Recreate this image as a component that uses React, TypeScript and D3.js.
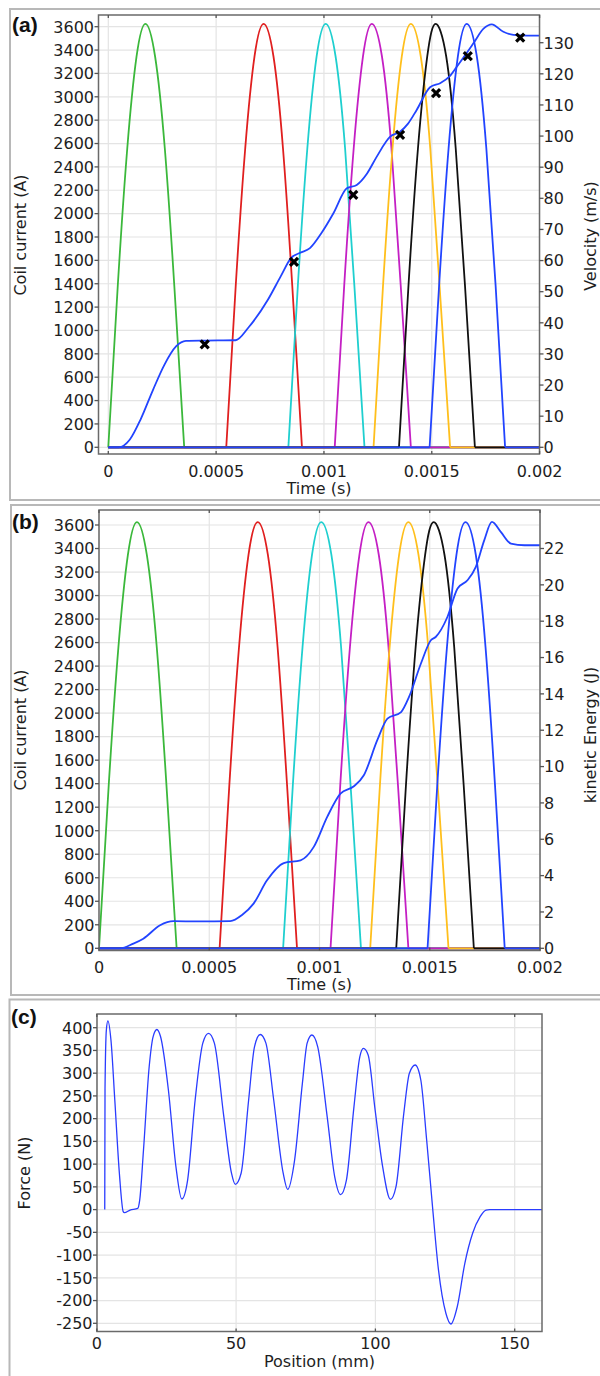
import React, { useRef, useEffect } from "react";
import * as d3 from "d3";

// ---- data ----
const timeTicks = [0, 0.0005, 0.001, 0.0015, 0.002];
const timeTickLabels = ["0", "0.0005", "0.001", "0.0015", "0.002"];
const currentTicks = [0, 200, 400, 600, 800, 1000, 1200, 1400, 1600, 1800, 2000, 2200, 2400, 2600, 2800, 3000, 3200, 3400, 3600];
const velocityTicks = [0, 10, 20, 30, 40, 50, 60, 70, 80, 90, 100, 110, 120, 130];
const energyTicks = [0, 2, 4, 6, 8, 10, 12, 14, 16, 18, 20, 22];
const forceTicks = [-250, -200, -150, -100, -50, 0, 50, 100, 150, 200, 250, 300, 350, 400];
const positionTicks = [0, 50, 100, 150];

const coilColors = ["#3bb83b", "#e01f1f", "#1fcfcf", "#c41fc4", "#ffbf1c", "#111111", "#2244ff"];
// sample times of each coil's pulse (s)
const coilTimes = [
  [0, 0.000044, 0.000088, 0.000131, 0.000172, 0.000217, 0.000262, 0.000306, 0.000352],
  [0.000547, 0.000591, 0.000635, 0.000678, 0.000720, 0.000766, 0.00081, 0.000853, 0.000898],
  [0.000835, 0.000879, 0.000923, 0.000966, 0.001008, 0.001054, 0.001098, 0.001141, 0.001188],
  [0.00105, 0.001094, 0.001138, 0.001181, 0.001222, 0.001269, 0.001313, 0.001356, 0.001403],
  [0.00123, 0.001274, 0.001318, 0.001361, 0.001403, 0.001449, 0.001493, 0.001536, 0.001585],
  [0.001348, 0.001392, 0.001436, 0.001479, 0.001518, 0.001567, 0.001611, 0.001654, 0.0017],
  [0.00149, 0.001534, 0.001578, 0.001621, 0.001662, 0.001709, 0.001753, 0.001796, 0.00184],
];
// current at those samples (A), same for every coil
const coilCurrent = [0, 1385, 2560, 3345, 3625, 3345, 2560, 1385, 0];

// velocity (m/s) vs time (s)
const velocity = [
  [0, 0], [0.000048, 0], [0.0001, 2.5], [0.00015, 9], [0.000207, 18.4], [0.00026, 26.5], [0.000314, 32.4],
  [0.00036, 34.2], [0.00045, 34.3], [0.00059, 34.4], [0.00065, 38.5], [0.00074, 47.4], [0.0008, 55],
  [0.000847, 60.8], [0.00089, 62.5], [0.000935, 64], [0.00099, 69], [0.001044, 75.2], [0.001106, 83.2],
  [0.001152, 84.3], [0.0012, 88], [0.001245, 93.4], [0.001307, 99.8], [0.001353, 101.4], [0.00139, 104],
  [0.00143, 108.4], [0.001492, 115.7], [0.001539, 117], [0.00158, 119], [0.001616, 122.3], [0.001693, 129.8],
  [0.00174, 134.5], [0.001778, 135.9], [0.001832, 133.5], [0.001879, 132.5], [0.00194, 132.3], [0.002, 132.3],
];
const velocityMarks = [
  [0.000447, 33.1], [0.000861, 59.6], [0.001136, 81.1], [0.001353, 100.4], [0.00152, 113.8], [0.001667, 125.7], [0.00191, 131.6],
];

// kinetic energy (J) vs time (s)
const energy = [
  [0, 0], [0.0000955, 0], [0.000156, 0.26], [0.000201, 0.53], [0.000277, 1.27], [0.000338, 1.49], [0.00045, 1.48],
  [0.000595, 1.5], [0.00065, 1.85], [0.000701, 2.46], [0.000762, 3.74], [0.000838, 4.69], [0.000914, 4.84],
  [0.000974, 5.58], [0.001035, 7.23], [0.001095, 8.51], [0.001156, 8.92], [0.001201, 9.52], [0.001262, 11.45],
  [0.001308, 12.64], [0.00137, 13.0], [0.001406, 13.83], [0.00146, 15.67], [0.001505, 16.95], [0.001527, 17.13],
  [0.00158, 18.23], [0.001626, 19.8], [0.001671, 20.25], [0.001709, 20.99], [0.001747, 22.45], [0.001782, 23.46],
  [0.001823, 22.9], [0.001868, 22.27], [0.00193, 22.18], [0.002, 22.18],
];

// force (N) vs position (mm)
const force = [
  [2.85, 0], [2.95, 266], [3.43, 395], [3.98, 415], [5.08, 373], [6.46, 241], [8.1, 80], [9.48, -4.5], [9.89, -6.7],
  [11.95, -1], [14.7, 2.8], [15.4, 21], [16.76, 131], [18.8, 314], [20.2, 380], [21.57, 396], [22.9, 380],
  [25.7, 263], [28.4, 94.5], [30.5, 23.4], [32.6, 65], [35.3, 241], [38.05, 366], [40.1, 387.5], [42.2, 366],
  [45.6, 204], [48.35, 80], [49.7, 55.6], [51.8, 80], [54.5, 241], [56.6, 358], [58.65, 385], [60.7, 366],
  [63.5, 241], [66.9, 80], [68.5, 44.6], [71.0, 109], [73.8, 278], [75.5, 366], [77.2, 384], [79.3, 358],
  [82.7, 204], [85.4, 72], [87.5, 33], [89.6, 65], [92.3, 226], [94.4, 336], [95.7, 354.6], [97.4, 340],
  [99.9, 219], [102.6, 94.5], [105.4, 22.6], [107.4, 50.5], [110.2, 212], [112.2, 300], [114.3, 318],
  [116.3, 285], [118.4, 153], [120.5, 6.5], [122.5, -125], [125.3, -228], [127.1, -251.5], [129.4, -213],
  [132.1, -118], [134.9, -52], [137.6, -15.5], [139.7, -1], [141, 0], [160, 0],
];

const FONT = "DejaVu Sans";
const FS = 16;
const TXT = "#1e1e1e";

function label(g, x, y, s, anchor = "middle", rotate = false) {
  const t = g.append("text")
    .attr("font-family", FONT)
    .attr("font-size", FS)
    .attr("fill", TXT)
    .attr("text-anchor", anchor)
    .text(s);
  if (rotate) t.attr("transform", `translate(${x},${y}) rotate(-90)`);
  else t.attr("x", x).attr("y", y);
  return t;
}

// grid for a panel
function drawAxes(svg, p) {
  const g = svg.append("g");
  const [l, t, r, b] = p.frame;
  p.xTicks.forEach((v) => {
    g.append("line").attr("x1", p.x(v)).attr("x2", p.x(v)).attr("y1", t).attr("y2", b)
      .attr("stroke", "#e4e4e4").attr("stroke-width", 1.2);
  });
  p.yTicks.forEach((v) => {
    g.append("line").attr("x1", l).attr("x2", r).attr("y1", p.y(v)).attr("y2", p.y(v))
      .attr("stroke", "#e4e4e4").attr("stroke-width", 1.2);
  });
  return g;
}

// frame, ticks, labels, titles
function drawFrame(svg, p) {
  const g = svg.append("g");
  const [l, t, r, b] = p.frame;
  g.append("rect").attr("x", l).attr("y", t).attr("width", r - l).attr("height", b - t)
    .attr("fill", "none").attr("stroke", "#6a6a6a").attr("stroke-width", 1.5);
  p.xTicks.forEach((v, i) => {
    const x = p.x(v);
    g.append("line").attr("x1", x).attr("x2", x).attr("y1", b).attr("y2", b - 3).attr("stroke", "#555").attr("stroke-width", 1.3);
    g.append("line").attr("x1", x).attr("x2", x).attr("y1", t).attr("y2", t + 3).attr("stroke", "#555").attr("stroke-width", 1.3);
    label(g, x, p.xLabelY, p.xLabels[i]);
  });
  p.yTicks.forEach((v) => {
    const y = p.y(v);
    g.append("line").attr("x1", l - 4).attr("x2", l).attr("y1", y).attr("y2", y).attr("stroke", "#555").attr("stroke-width", 1.3);
    label(g, l - 4.5, y + 5.8, String(v), "end");
  });
  if (p.y2) {
    p.y2Ticks.forEach((v) => {
      const y = p.y2(v);
      g.append("line").attr("x1", r).attr("x2", r + 4).attr("y1", y).attr("y2", y).attr("stroke", "#555").attr("stroke-width", 1.3);
      label(g, r + 4, y + 5.8, String(v), "start");
    });
    label(g, 596, p.y2TitleY, p.y2Title, "middle", true);
  }
  label(g, (l + r) / 2, p.xTitleY, p.xTitle);
  label(g, p.yTitleX, p.yTitleY, p.yTitle, "middle", true);
  g.append("text").attr("x", p.tagX).attr("y", p.tagY)
    .attr("font-family", "Liberation Sans").attr("font-weight", "bold").attr("font-size", 21)
    .attr("fill", "#111").text(p.tag);
}

function clipped(svg, id, frame) {
  const [l, t, r, b] = frame;
  svg.append("clipPath").attr("id", id).append("rect").attr("x", l).attr("y", t).attr("width", r - l).attr("height", b - t);
  return svg.append("g").attr("clip-path", `url(#${id})`);
}

function drawCoils(g, x, y) {
  const flat = d3.line<number>().x((d) => x(d)).y(() => y(0));
  const pulse = d3.line<number>().x((d) => x(d)).y((d, j) => y(coilCurrent[j])).curve(d3.curveNatural);
  const t0 = timeTicks[0];
  const t1 = timeTicks[timeTicks.length - 1];
  coilTimes.forEach((times, i) => {
    const c = coilColors[i];
    const s = times[0];
    const e = times[times.length - 1];
    [[t0, s], [e, t1]].filter((seg) => seg[1] > seg[0]).forEach((seg) => {
      g.append("path").attr("d", flat(seg)).attr("fill", "none").attr("stroke", c).attr("stroke-width", 1.8);
    });
    g.append("path").attr("d", pulse(times)).attr("fill", "none").attr("stroke", c).attr("stroke-width", 1.8);
  });
}

export default function App() {
  const svgRef = useRef<SVGSVGElement>(null);

  useEffect(() => {
    const svg = d3.select(svgRef.current);
    svg.selectAll("*").remove();

    // outer panel boxes
    [[10, 9, 600, 491], [11, 505, 600, 490], [9.5, 999.5, 600, 400]].forEach(([x, y, w, h]) => {
      svg.append("rect").attr("x", x).attr("y", y).attr("width", w).attr("height", h)
        .attr("fill", "none").attr("stroke", "#b8b8b8").attr("stroke-width", 2);
    });

    // ---------- (a) ----------
    const fA = [98.5, 15, 539.5, 454];
    const xA = d3.scaleLinear().domain([0, 0.002]).range([108.3, 539.6]);
    const yA = d3.scaleLinear().domain([0, 3600]).range([447.3, 26.7]);
    const vA = d3.scaleLinear().domain([0, 130]).range([447.3, 42.7]);
    const pA = {
      frame: fA, x: xA, y: yA, y2: vA,
      xTicks: timeTicks, xLabels: timeTickLabels, xLabelY: 477,
      yTicks: currentTicks, y2Ticks: velocityTicks,
      xTitle: "Time (s)", xTitleY: 494,
      yTitle: "Coil current (A)", yTitleX: 26, yTitleY: 235,
      y2Title: "Velocity (m/s)", y2TitleY: 236,
      tag: "(a)", tagX: 12, tagY: 32,
    };
    drawAxes(svg, pA);
    const gA = clipped(svg, "clipA", fA);
    drawCoils(gA, xA, yA);
    gA.append("path")
      .attr("d", d3.line<number[]>().x((d) => xA(d[0])).y((d) => vA(d[1])).curve(d3.curveMonotoneX)(velocity))
      .attr("fill", "none").attr("stroke", "#2244ff").attr("stroke-width", 1.8);
    velocityMarks.forEach(([t, v]) => {
      gA.append("path").attr("transform", `translate(${xA(t)},${vA(v)})`)
        .attr("d", "M-4,-4L4,4M-4,4L4,-4").attr("stroke", "#000").attr("stroke-width", 3.2);
    });
    drawFrame(svg, pA);

    // ---------- (b) ----------
    const fB = [99, 510, 540, 950.5];
    const xB = d3.scaleLinear().domain([0, 0.002]).range([99, 540]);
    const yB = d3.scaleLinear().domain([0, 3600]).range([948.3, 525]);
    const eB = d3.scaleLinear().domain([0, 22]).range([948.3, 548.5]);
    const pB = {
      frame: fB, x: xB, y: yB, y2: eB,
      xTicks: timeTicks, xLabels: timeTickLabels, xLabelY: 972.5,
      yTicks: currentTicks, y2Ticks: energyTicks,
      xTitle: "Time (s)", xTitleY: 990,
      yTitle: "Coil current (A)", yTitleX: 26, yTitleY: 730,
      y2Title: "kinetic Energy (J)", y2TitleY: 735,
      tag: "(b)", tagX: 12, tagY: 529,
    };
    drawAxes(svg, pB);
    const gB = clipped(svg, "clipB", fB);
    drawCoils(gB, xB, yB);
    gB.append("path")
      .attr("d", d3.line<number[]>().x((d) => xB(d[0])).y((d) => eB(d[1])).curve(d3.curveMonotoneX)(energy))
      .attr("fill", "none").attr("stroke", "#2244ff").attr("stroke-width", 1.8);
    drawFrame(svg, pB);

    // ---------- (c) ----------
    const fC = [97, 1014, 542, 1331.5];
    const xC = d3.scaleLinear().domain([0, 150]).range([96.8, 514.7]);
    const yC = d3.scaleLinear().domain([400, -250]).range([1027.7, 1323.3]);
    const pC = {
      frame: fC, x: xC, y: yC,
      xTicks: positionTicks, xLabels: positionTicks.map(String), xLabelY: 1348.5,
      yTicks: forceTicks,
      xTitle: "Position (mm)", xTitleY: 1367,
      yTitle: "Force (N)", yTitleX: 29.5, yTitleY: 1173,
      tag: "(c)", tagX: 11, tagY: 1024,
    };
    drawAxes(svg, pC);
    const gC = clipped(svg, "clipC", fC);
    gC.append("path")
      .attr("d", d3.line<number[]>().x((d) => xC(d[0])).y((d) => yC(d[1])).curve(d3.curveMonotoneX)(force))
      .attr("fill", "none").attr("stroke", "#2a3cff").attr("stroke-width", 1.3);
    drawFrame(svg, pC);
  }, []);

  return (
    <svg
      ref={svgRef}
      width={600}
      height={1376}
      style={{ position: "absolute", left: 0, top: 0, background: "#fff" }}
    />
  );
}
